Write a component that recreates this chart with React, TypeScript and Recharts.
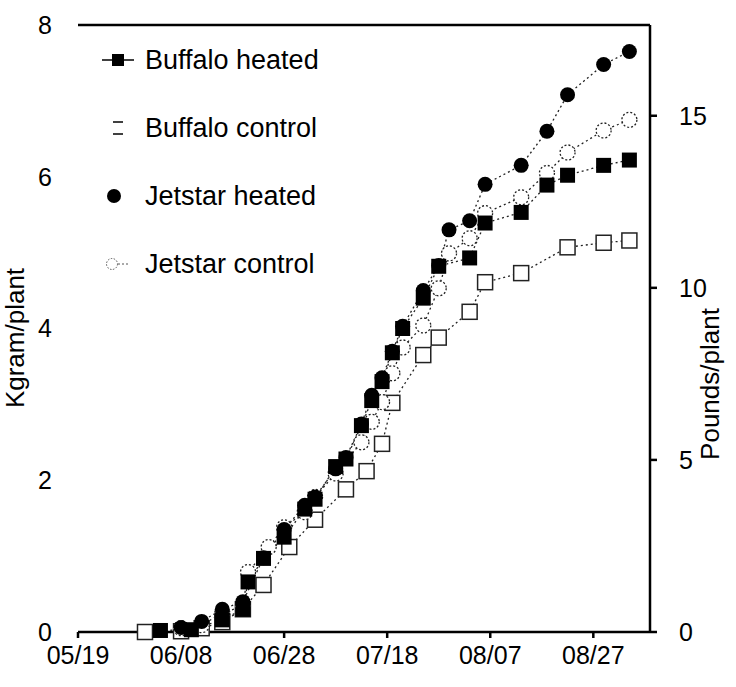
import { LineChart, Line, XAxis, YAxis, ReferenceLine } from "recharts"

// x values are days counted from 05/19
const dateTickDays = [0, 20, 40, 60, 80, 100]
const dateTickLabels = ["05/19", "06/08", "06/28", "07/18", "08/07", "08/27"]
const kgTicks = [0, 2, 4, 6, 8]
const lbTicks = [0, 5, 10, 15]
const KG_TO_LB = 2.20462

const buffaloHeatedDays = [16, 22, 28, 32, 33, 36, 40, 44, 46, 50, 52, 55, 57, 59, 61, 63, 67, 70, 76, 79, 86, 91, 95, 102, 107]
const buffaloHeatedKg = [0.02, 0.03, 0.16, 0.3, 0.66, 0.97, 1.25, 1.62, 1.75, 2.18, 2.28, 2.72, 3.05, 3.3, 3.68, 4.0, 4.4, 4.82, 4.93, 5.39, 5.53, 5.89, 6.02, 6.15, 6.22]

const buffaloControlDays = [13, 20, 24, 28, 32, 36, 41, 46, 52, 56, 59, 61, 67, 70, 76, 79, 86, 95, 102, 107]
const buffaloControlKg = [0.0, 0.01, 0.05, 0.13, 0.3, 0.62, 1.12, 1.48, 1.88, 2.12, 2.48, 3.02, 3.65, 3.88, 4.22, 4.61, 4.73, 5.07, 5.13, 5.16]

const jetstarHeatedDays = [20, 24, 28, 32, 36, 40, 44, 46, 50, 52, 55, 57, 59, 61, 63, 67, 70, 72, 76, 79, 86, 91, 95, 102, 107]
const jetstarHeatedKg = [0.06, 0.14, 0.3, 0.4, 0.98, 1.35, 1.67, 1.78, 2.15, 2.3, 2.74, 3.12, 3.35, 3.7, 4.03, 4.5, 4.83, 5.3, 5.42, 5.9, 6.15, 6.6, 7.08, 7.48, 7.65]

const jetstarControlDays = [20, 24, 28, 32, 33, 37, 40, 44, 46, 50, 55, 57, 59, 61, 63, 67, 70, 72, 76, 79, 86, 91, 95, 102, 107]
const jetstarControlKg = [0.05, 0.09, 0.25, 0.34, 0.79, 1.12, 1.38, 1.58, 1.78, 2.09, 2.5, 2.77, 3.03, 3.41, 3.75, 4.04, 4.53, 4.99, 5.19, 5.52, 5.73, 6.05, 6.32, 6.61, 6.75]

const toPoints = (days: number[], kg: number[]) => days.map((day, i) => ({ day, kg: kg[i] }))

const FONT = "'Liberation Sans', Arial, sans-serif"

type Shape = "filledSquare" | "openSquare" | "filledCircle" | "openCircle"

function Marker({ cx, cy, shape, size = 15 }: { cx: number; cy: number; shape: Shape; size?: number }) {
  const h = size / 2
  if (shape === "filledSquare") return <rect x={cx - h} y={cy - h} width={size} height={size} fill="#000" />
  if (shape === "openSquare")
    return <rect x={cx - h} y={cy - h} width={size} height={size} fill="#fff" stroke="#222" strokeWidth={1.5} />
  if (shape === "filledCircle") return <circle cx={cx} cy={cy} r={h} fill="#000" />
  return <circle cx={cx} cy={cy} r={h} fill="#fff" stroke="#222" strokeWidth={1.3} strokeDasharray="2 2" />
}

const series = [
  { name: "Buffalo control", shape: "openSquare" as Shape, data: toPoints(buffaloControlDays, buffaloControlKg) },
  { name: "Jetstar control", shape: "openCircle" as Shape, data: toPoints(jetstarControlDays, jetstarControlKg) },
  { name: "Buffalo heated", shape: "filledSquare" as Shape, data: toPoints(buffaloHeatedDays, buffaloHeatedKg) },
  { name: "Jetstar heated", shape: "filledCircle" as Shape, data: toPoints(jetstarHeatedDays, jetstarHeatedKg) },
]

const legendOrder = ["Buffalo heated", "Buffalo control", "Jetstar heated", "Jetstar control"]

function LegendIcon({ shape }: { shape: Shape }) {
  if (shape === "filledSquare")
    return (
      <svg width={36} height={20}>
        <line x1={2} y1={10} x2={34} y2={10} stroke="#000" strokeWidth={1.5} />
        <rect x={12} y={4} width={12} height={12} fill="#000" />
      </svg>
    )
  if (shape === "openSquare")
    return (
      <svg width={36} height={20}>
        <line x1={13} y1={4} x2={23} y2={4} stroke="#000" strokeWidth={1.5} />
        <line x1={13} y1={16} x2={23} y2={16} stroke="#000" strokeWidth={1.5} />
      </svg>
    )
  if (shape === "filledCircle")
    return (
      <svg width={36} height={20}>
        <circle cx={14} cy={10} r={7} fill="#000" />
      </svg>
    )
  return (
    <svg width={36} height={20}>
      <circle cx={12} cy={10} r={5.5} fill="#fff" stroke="#555" strokeWidth={1} strokeDasharray="1.5 1.5" />
      <line x1={18} y1={10} x2={28} y2={10} stroke="#555" strokeWidth={1} strokeDasharray="2 2" />
    </svg>
  )
}

function ChartLegend() {
  return (
    <div style={{ position: "absolute", left: 100, top: 26, fontFamily: FONT, fontSize: 27, color: "#000" }}>
      {legendOrder.map((name) => {
        const s = series.find((x) => x.name === name)!
        return (
          <div key={name} style={{ display: "flex", alignItems: "center", height: 68 }}>
            <LegendIcon shape={s.shape} />
            <span style={{ marginLeft: 9 }}>{name}</span>
          </div>
        )
      })}
    </div>
  )
}

export default function App() {
  const tickStyle = { fontSize: 25, fill: "#000", fontFamily: FONT }
  return (
    <div style={{ position: "absolute", left: 0, top: 0, width: 736, height: 687, background: "#fff" }}>
      <LineChart width={736} height={687} margin={{ top: 25, right: 30, bottom: 15, left: 30 }}>
        <XAxis
          dataKey="day"
          type="number"
          domain={[0, 111]}
          ticks={dateTickDays}
          tickFormatter={(v) => dateTickLabels[dateTickDays.indexOf(v)] ?? ""}
          allowDuplicatedCategory={false}
          height={40}
          tick={tickStyle}
          tickSize={6}
          tickMargin={8}
          stroke="#000"
          strokeWidth={2.5}
        />
        <YAxis
          yAxisId="left"
          dataKey="kg"
          domain={[0, 8]}
          ticks={kgTicks}
          width={48}
          tick={tickStyle}
          axisLine={false}
          tickLine={false}
          tickMargin={20}
          label={{
            content: () => (
              <text x={24} y={338} transform="rotate(-90 24 338)" textAnchor="middle" fontSize={26} fontFamily={FONT} fill="#000">
                Kgram/plant
              </text>
            ),
          }}
        />
        <YAxis
          yAxisId="right"
          orientation="right"
          domain={[0, 8 * KG_TO_LB]}
          allowDataOverflow
          ticks={lbTicks}
          width={56}
          tick={tickStyle}
          tickSize={7}
          tickMargin={22}
          stroke="#000"
          strokeWidth={2.5}
          label={{
            content: () => (
              <text x={719} y={384} transform="rotate(-90 719 384)" textAnchor="middle" fontSize={26} fontFamily={FONT} fill="#000">
                Pounds/plant
              </text>
            ),
          }}
        />
        <ReferenceLine yAxisId="left" y={8} stroke="#000" strokeWidth={2.5} />
        {series.map((s) => (
          <Line
            key={s.name}
            yAxisId="left"
            data={s.data}
            dataKey="kg"
            name={s.name}
            stroke="#222"
            strokeWidth={1.3}
            strokeDasharray="2 3"
            isAnimationActive={false}
            dot={(p: any) => <Marker key={`${s.name}-${p.index}`} cx={p.cx} cy={p.cy} shape={s.shape} />}
            activeDot={false}
          />
        ))}
      </LineChart>
      <ChartLegend />
    </div>
  )
}
